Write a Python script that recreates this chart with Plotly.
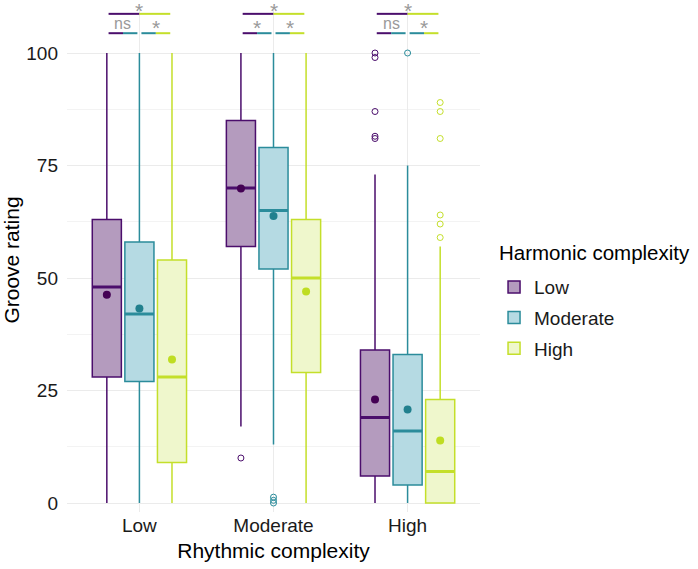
import plotly.graph_objects as go

# Rhythmic complexity categories (x axis)
rhythm_cats = ["Low", "Moderate", "High"]
# Harmonic complexity groups (legend)
harm_groups = ["Low", "Moderate", "High"]

# Box statistics per harmonic group, ordered by rhythmic category
q1_low = [28, 57, 6]
med_low = [48, 70, 19]
q3_low = [63, 85, 34]
lofence_low = [0, 17, 0]
hifence_low = [100, 100, 73]
mean_low = [46.3, 69.9, 23.0]

q1_mod = [27, 52, 4]
med_mod = [42, 65, 16]
q3_mod = [58, 79, 33]
lofence_mod = [0, 13, 0]
hifence_mod = [100, 100, 75]
mean_mod = [43.2, 63.8, 20.8]

q1_high = [9, 29, 0]
med_high = [28, 50, 7]
q3_high = [54, 63, 23]
lofence_high = [0, 0, 0]
hifence_high = [100, 100, 57]
mean_high = [31.9, 47.0, 13.9]

# Outliers: (rhythmic category index, value)
out_cat_low = [1, 2, 2, 2, 2, 2]
out_val_low = [10, 100, 99, 87, 81.5, 81]
out_cat_mod = [1, 1, 1, 2]
out_val_mod = [0, 0.6, 1.3, 100]
out_cat_high = [2, 2, 2, 2, 2, 2]
out_val_high = [89, 87, 81, 64, 62, 59]

# Significance labels per rhythmic category
sig_low_vs_high = ["*", "*", "*"]
sig_low_vs_mod = ["ns", "*", "ns"]
sig_mod_vs_high = ["*", "*", "*"]

line_cols = ["#4B0E6C", "#2B8C9B", "#C4DF2A"]
fill_cols = ["#B49BBE", "#B5DAE3", "#EFF7CC"]
mean_cols = ["#440154", "#21808E", "#BFDD22"]

DODGE = 0.243
BOXW = 0.217
FONT = "Liberation Sans, Arial, sans-serif"

stats = [
    (q1_low, med_low, q3_low, lofence_low, hifence_low, mean_low, out_cat_low, out_val_low),
    (q1_mod, med_mod, q3_mod, lofence_mod, hifence_mod, mean_mod, out_cat_mod, out_val_mod),
    (q1_high, med_high, q3_high, lofence_high, hifence_high, mean_high, out_cat_high, out_val_high),
]

fig = go.Figure()
for gi, (name, st) in enumerate(zip(harm_groups, stats)):
    q1, med, q3, lo, hi, mn, oc, ov = st
    off = (gi - 1) * DODGE
    xs = [i + off for i in range(len(rhythm_cats))]
    fig.add_trace(go.Box(
        x=xs, q1=q1, median=med, q3=q3, lowerfence=lo, upperfence=hi,
        width=BOXW, name=name, fillcolor=fill_cols[gi],
        line=dict(color=line_cols[gi], width=1.5), whiskerwidth=0,
        boxpoints=False, legendgroup=name, hoverinfo="skip",
    ))
    # thicker median lines
    mx, my = [], []
    for x, m in zip(xs, med):
        mx += [x - BOXW / 2, x + BOXW / 2, None]
        my += [m, m, None]
    fig.add_trace(go.Scatter(x=mx, y=my, mode="lines",
                             line=dict(color=line_cols[gi], width=3),
                             showlegend=False, hoverinfo="skip"))
    # outliers
    fig.add_trace(go.Scatter(
        x=[c + off for c in oc], y=ov, mode="markers",
        marker=dict(symbol="circle-open", size=6, color=line_cols[gi], line=dict(width=1)),
        showlegend=False, hoverinfo="skip"))
    # means
    fig.add_trace(go.Scatter(
        x=xs, y=mn, mode="markers",
        marker=dict(symbol="circle", size=8, color=mean_cols[gi]),
        showlegend=False, hoverinfo="skip"))

# significance brackets
Y_TOP = 108.7
Y_LOW = 104.4
shapes = []
annotations = []
for i in range(len(rhythm_cats)):
    a, b = i - 0.23, i + 0.23
    segs = [
        (a, i, Y_TOP, line_cols[0]), (i, b, Y_TOP, line_cols[2]),
        (a, (a + i - 0.015) / 2, Y_LOW, line_cols[0]), ((a + i - 0.015) / 2, i - 0.015, Y_LOW, line_cols[1]),
        (i + 0.015, (b + i + 0.015) / 2, Y_LOW, line_cols[1]), ((b + i + 0.015) / 2, b, Y_LOW, line_cols[2]),
    ]
    for x0, x1, yy, col in segs:
        shapes.append(dict(type="line", xref="x", yref="y", x0=x0, x1=x1, y0=yy, y1=yy,
                           line=dict(color=col, width=2)))
    for xx, yy, txt, ys in [(i, Y_TOP, sig_low_vs_high[i], -10),
                            ((a + i - 0.015) / 2, Y_LOW, sig_low_vs_mod[i], -8),
                            ((b + i + 0.015) / 2, Y_LOW, sig_mod_vs_high[i], -8)]:
        annotations.append(dict(x=xx, y=yy, xref="x", yref="y", text=txt, showarrow=False,
                                yanchor="bottom", yshift=ys if txt == "*" else -1,
                                font=dict(family=FONT, size=21 if txt == "*" else 16, color="#9A9A9A")))

# legend title as its own text
annotations.append(dict(x=1.041, y=0.514, xref="paper", yref="paper", text="Harmonic complexity",
                        showarrow=False, xanchor="left", yanchor="middle",
                        font=dict(family=FONT, size=20.5, color="black")))

fig.update_layout(
    width=698, height=569,
    margin=dict(l=67, r=218, t=8, b=57, autoexpand=False),
    plot_bgcolor="white", paper_bgcolor="white",
    font=dict(family=FONT, color="#1a1a1a"),
    shapes=shapes, annotations=annotations,
    showlegend=True,
    legend=dict(
        font=dict(size=19, color="#1a1a1a"),
        x=1.034, xanchor="left", y=0.484, yanchor="top",
        tracegroupgap=3, traceorder="grouped",
    ),
    xaxis=dict(
        range=[-0.54, 2.54], tickvals=list(range(len(rhythm_cats))), ticktext=rhythm_cats,
        showgrid=True, gridcolor="#EBEBEB", gridwidth=1, zeroline=False, showline=False,
        ticks="", tickfont=dict(size=19, color="#1a1a1a"), automargin=False,
        title=dict(text="Rhythmic complexity", font=dict(size=21, color="black"), standoff=8),
    ),
    yaxis=dict(
        range=[-2, 110], tickvals=[0, 25, 50, 75, 100],
        showgrid=True, gridcolor="#EBEBEB", gridwidth=1, zeroline=False, showline=False,
        ticks="", tickfont=dict(size=19, color="#1a1a1a"), automargin=False,
        ticklabelstandoff=8,
        minor=dict(tickvals=[12.5, 37.5, 62.5, 87.5], showgrid=True, gridcolor="#F3F3F3", gridwidth=1),
        title=dict(text="Groove rating", font=dict(size=21, color="black"), standoff=8),
    ),
)

fig.write_html("out.html", config={"displayModeBar": False},
               post_script="document.body.style.margin='0';")
